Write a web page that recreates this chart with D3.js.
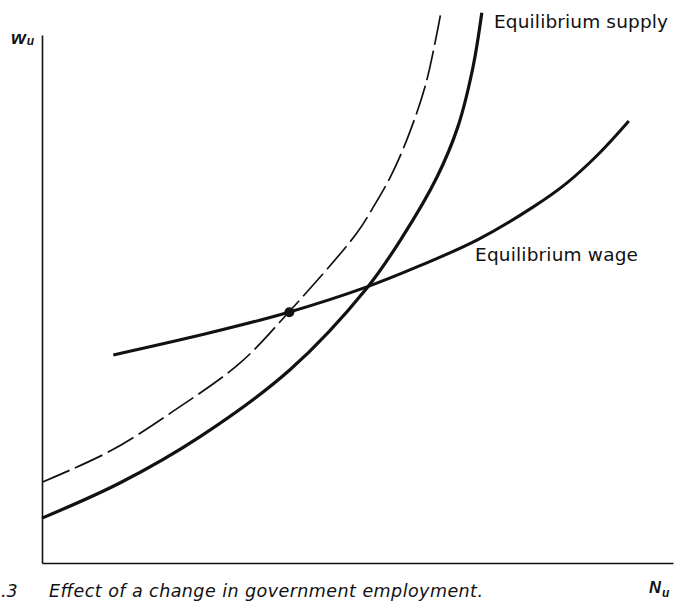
<!DOCTYPE html>
<html>
<head>
<meta charset="utf-8">
<script src="https://cdn.jsdelivr.net/npm/d3@7"></script>
<style>
  html, body { margin: 0; padding: 0; background: #fff; }
  svg { display: block; }
</style>
</head>
<body>
<svg id="chart" width="675" height="602"></svg>
<script>
// ---- data (abstract units: N_u on x, w_u on y, 0..100 each) ----
const supplyN   = [0, 12.4, 25.0, 39.3, 51.5, 57.2, 62.6, 65.9, 68.3, 69.7];
const supplyW   = [8.5, 15.2, 23.9, 36.6, 52.1, 61.9, 73.1, 82.6, 93.9, 104.2];

const shiftedN  = [0, 10.8, 21.1, 31.4, 39.1, 49.9, 52.5, 55.2, 57.8, 60.7, 62.6, 63.2];
const shiftedW  = [15.3, 21.2, 29.0, 37.9, 47.5, 62.5, 67.4, 73.1, 80.1, 90.2, 100.4, 104.2];

const wageN     = [11.3, 26.6, 39.1, 51.5, 59.9, 69.0, 77.8, 83.2, 88.4, 93.0];
const wageW     = [39.4, 43.6, 47.5, 52.3, 56.3, 61.2, 67.4, 72.0, 77.7, 83.7];

const pointN = [39.2];
const pointW = [47.5];

const labels = {
  supply: "Equilibrium supply",
  wage: "Equilibrium wage",
  caption: "Effect of a change in government employment.",
  fig: ".3"
};

// ---- scales ----
const svg = d3.select("#chart");
const x = d3.scaleLinear().domain([0, 100]).range([42, 673]);
const y = d3.scaleLinear().domain([0, 100]).range([563, 35]);

const zip = (a, b) => a.map((v, i) => [v, b[i]]);
const line = d3.line().x(d => x(d[0])).y(d => y(d[1])).curve(d3.curveCatmullRom.alpha(0.5));

// ---- axes (plain lines, no ticks) ----
const yAxis = d3.axisLeft(y).tickValues([]).tickSizeOuter(0);
const xAxis = d3.axisBottom(x).tickValues([]).tickSizeOuter(0);
svg.append("g").attr("transform", `translate(${x(0)},0)`).call(yAxis)
   .call(g => g.select(".domain").attr("stroke", "#111").attr("stroke-width", 1.6));
svg.append("g").attr("transform", `translate(0,${y(0)})`).call(xAxis)
   .call(g => g.select(".domain").attr("stroke", "#111").attr("stroke-width", 1.6));

// ---- curves ----
svg.append("path").datum(zip(shiftedN, shiftedW))
  .attr("d", line).attr("fill", "none").attr("stroke", "#111")
  .attr("stroke-width", 1.7).attr("stroke-dasharray", "30,6");

svg.append("path").datum(zip(supplyN, supplyW))
  .attr("d", line).attr("fill", "none").attr("stroke", "#111")
  .attr("stroke-width", 3.2);

svg.append("path").datum(zip(wageN, wageW))
  .attr("d", line).attr("fill", "none").attr("stroke", "#111")
  .attr("stroke-width", 3);

svg.selectAll("circle.pt").data(zip(pointN, pointW)).enter().append("circle")
  .attr("class", "pt")
  .attr("cx", d => x(d[0])).attr("cy", d => y(d[1])).attr("r", 5).attr("fill", "#111");

// ---- text ----
svg.append("text").attr("x", 494).attr("y", 28)
  .attr("font-family", "DejaVu Sans").attr("font-size", 18.5).attr("fill", "#111")
  .attr("textLength", 174).attr("lengthAdjust", "spacing")
  .text(labels.supply);

svg.append("text").attr("x", 475).attr("y", 261)
  .attr("font-family", "DejaVu Sans").attr("font-size", 18.5).attr("fill", "#111")
  .attr("textLength", 163).attr("lengthAdjust", "spacing")
  .text(labels.wage);

// axis labels
const wl = svg.append("text").attr("x", 11).attr("y", 44)
  .attr("font-family", "Liberation Sans").attr("font-weight", "bold").attr("font-style", "italic")
  .attr("font-size", 19).attr("fill", "#111");
wl.append("tspan").text("w");
wl.append("tspan").attr("font-size", 12).attr("dx", 1).attr("dy", 1).text("u");

const nl = svg.append("text").attr("x", 649).attr("y", 593)
  .attr("font-family", "Liberation Sans").attr("font-weight", "bold").attr("font-style", "italic")
  .attr("font-size", 16.5).attr("fill", "#111");
nl.append("tspan").text("N");
nl.append("tspan").attr("font-size", 12).attr("dx", 1).attr("dy", 4).text("u");

// caption
svg.append("text").attr("x", 1).attr("y", 597)
  .attr("font-family", "DejaVu Sans").attr("font-style", "italic")
  .attr("font-size", 17.5).attr("fill", "#111")
  .text(labels.fig);
svg.append("text").attr("x", 49).attr("y", 597)
  .attr("font-family", "DejaVu Sans").attr("font-style", "italic")
  .attr("font-size", 17.5).attr("fill", "#111")
  .attr("textLength", 434).attr("lengthAdjust", "spacing")
  .text(labels.caption);
</script>
</body>
</html>
